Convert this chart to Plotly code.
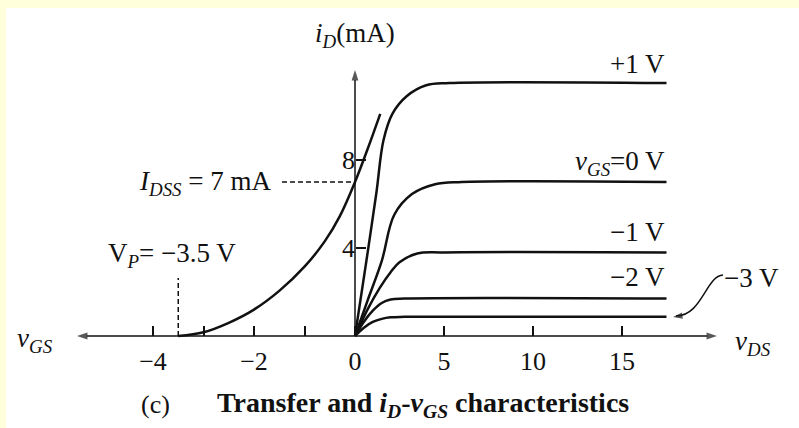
import plotly.graph_objects as go

# ---------------- data ----------------
# transfer characteristic  iD vs vGS
transfer_vgs = [-3.5, -3.0, -2.5, -2.0, -1.5, -1.0, -0.6, -0.3, 0.0, 0.25, 0.5]
transfer_id = [0.0, 0.17, 0.6, 1.2, 2.05, 3.15, 4.3, 5.45, 7.0, 8.5, 10.1]

# output characteristics  iD vs vDS for each vGS
vds_p1 = [0, 0.6, 1.2, 1.6, 2.1, 2.9, 4.0, 5.3, 17.5]
id_p1 = [0, 3.2, 6.5, 8.9, 10.1, 10.9, 11.4, 11.5, 11.5]
vds_0 = [0, 0.7, 1.5, 2.2, 3.2, 4.5, 6.0, 17.5]
id_0 = [0, 1.6, 3.4, 5.5, 6.45, 6.9, 7.0, 7.0]
vds_m1 = [0, 0.7, 1.4, 2.0, 2.5, 3.5, 5.0, 17.5]
id_m1 = [0, 1.2, 2.2, 2.9, 3.35, 3.75, 3.8, 3.8]
vds_m2 = [0, 0.5, 1.0, 1.5, 2.0, 2.8, 17.5]
id_m2 = [0, 0.65, 1.15, 1.5, 1.66, 1.7, 1.7]
vds_m3 = [0, 0.5, 1.0, 1.5, 2.0, 2.8, 17.5]
id_m3 = [0, 0.38, 0.64, 0.78, 0.85, 0.87, 0.87]

idss = 7.0
vp = -3.5
vgs_ticks = [-4, -2, 0]
vgs_ticktext = ["\u22124", "\u22122", "0"]
vgs_minor = [-3, -1]
vds_ticks = [5, 10, 15]
id_ticks = [4, 8]

# ---------------- geometry ----------------
W, H = 799, 428
ML, MT = 6, 8
OX, OY = 355, 336           # origin in pixels
PX_GS, PX_DS, PX_MA = 50.5, 17.8, 22.0
PW, PH = W - ML, H - MT

xr_gs = [-(OX - ML) / PX_GS, (W - OX) / PX_GS]
xr_ds = [-(OX - ML) / PX_DS, (W - OX) / PX_DS]
yr = [-(H - OY) / PX_MA, (OY - MT) / PX_MA]


def gs(px):
    return (px - OX) / PX_GS


def ds(px):
    return (px - OX) / PX_DS


def ma(py):
    return (OY - py) / PX_MA


INK = "#111111"
FONT = "Liberation Serif"
LW = 2.5

fig = go.Figure()

curve_style = dict(color=INK, width=LW, shape="spline", smoothing=1.0)
fig.add_trace(go.Scatter(x=transfer_vgs, y=transfer_id, mode="lines",
                         line=curve_style, xaxis="x", yaxis="y"))
for xs, ys in [(vds_p1, id_p1), (vds_0, id_0), (vds_m1, id_m1),
               (vds_m2, id_m2), (vds_m3, id_m3)]:
    fig.add_trace(go.Scatter(x=xs, y=ys, mode="lines", line=curve_style,
                             xaxis="x2", yaxis="y"))

# dashed guides
fig.add_trace(go.Scatter(x=[gs(282), 0], y=[idss, idss], mode="lines",
                         line=dict(color=INK, width=1.5, dash="5px,3px"),
                         xaxis="x", yaxis="y"))
fig.add_trace(go.Scatter(x=[vp, vp], y=[0, ma(278)], mode="lines",
                         line=dict(color=INK, width=1.5, dash="5px,3px"),
                         xaxis="x", yaxis="y"))

# axis lines with arrowheads
arrow_marker = dict(symbol="arrow", size=[0, 11], angleref="previous", color=INK,
                    line=dict(width=0))
fig.add_trace(go.Scatter(x=[0, gs(77)], y=[0, 0], mode="lines+markers",
                         line=dict(color=INK, width=1.5), marker=arrow_marker,
                         xaxis="x", yaxis="y"))
fig.add_trace(go.Scatter(x=[0, ds(717)], y=[0, 0], mode="lines+markers",
                         line=dict(color=INK, width=1.5), marker=arrow_marker,
                         xaxis="x2", yaxis="y"))
fig.add_trace(go.Scatter(x=[0, 0], y=[0, ma(70)], mode="lines+markers",
                         line=dict(color=INK, width=1.5), marker=arrow_marker,
                         xaxis="x", yaxis="y"))
# arrowhead of the -3 V pointer
fig.add_trace(go.Scatter(x=[ds(680), ds(673)], y=[ma(316), ma(317)], mode="markers",
                         marker=dict(symbol="arrow", size=[0, 10], angleref="previous",
                                     color=INK, line=dict(width=0)),
                         xaxis="x2", yaxis="y"))

annotations = []
tf = dict(family=FONT, size=26, color=INK)


def label(text, x, y, xref, xanchor="center", size=27):
    annotations.append(dict(text=text, x=x, y=y, xref=xref, yref="y",
                            xanchor=xanchor, yanchor="middle", showarrow=False,
                            font=dict(family=FONT, size=size, color=INK)))


label("<i>i</i><sub><i>D</i></sub>(mA)", 0, ma(35), "x")
label("+1 V", ds(667), ma(64), "x2", "right")
label("<i>v</i><sub><i>GS</i></sub>=0 V", ds(667), ma(163), "x2", "right")
label("\u22121 V", ds(667), ma(232), "x2", "right")
label("\u22122 V", ds(667), ma(277), "x2", "right")
label("\u22123 V", ds(722), ma(278), "x2", "left")
label("<i>I</i><sub><i>DSS</i></sub> = 7 mA", gs(274), ma(183), "x", "right")
label("V<sub><i>P</i></sub>= \u22123.5 V", gs(172), ma(255), "x")
label("<i>v</i><sub><i>GS</i></sub>", gs(35), ma(340), "x")
label("<i>v</i><sub><i>DS</i></sub>", ds(733), ma(343), "x2", "left")
label("(c)", gs(155), ma(404), "x", size=26)
label("<b>Transfer and <i>i</i><sub><i>D</i></sub>-<i>v</i><sub><i>GS</i></sub> characteristics</b>",
      gs(423), ma(404), "x", size=28)

shapes = [
    dict(type="path", xref="x2", yref="y",
         path=f"M {ds(723)},{ma(275)} C {ds(706)},{ma(276)} {ds(702)},{ma(316)} {ds(676)},{ma(316)}",
         line=dict(color=INK, width=1.5)),
]

axis_common = dict(showgrid=False, zeroline=False, showline=False,
                   ticks="inside", ticklen=10, tickwidth=1.5, tickcolor=INK,
                   tickfont=tf, anchor="free", position=(H - OY) / PH,
                   ticklabelstandoff=7, fixedrange=True)

fig.update_layout(
    width=W, height=H,
    margin=dict(l=ML, r=0, t=MT, b=0, autoexpand=False),
    paper_bgcolor="#FFFFDC", plot_bgcolor="white",
    showlegend=False,
    xaxis=dict(axis_common, range=xr_gs, tickmode="array", tickvals=vgs_ticks,
               ticktext=vgs_ticktext,
               minor=dict(tickmode="array", tickvals=vgs_minor, ticks="inside",
                          ticklen=10, tickwidth=1.5, tickcolor=INK)),
    xaxis2=dict(axis_common, range=xr_ds, overlaying="x", tickmode="array",
                tickvals=vds_ticks),
    yaxis=dict(showgrid=False, zeroline=False, showline=False,
               ticks="inside", ticklen=10, tickwidth=1.5, tickcolor=INK,
               tickfont=tf, anchor="free", position=(OX - ML) / PW,
               range=yr, tickmode="array", tickvals=id_ticks, fixedrange=True),
    annotations=annotations,
    shapes=shapes,
)

fig.write_html("out.html", config={"displayModeBar": False},
               post_script="document.body.style.margin='0';")
